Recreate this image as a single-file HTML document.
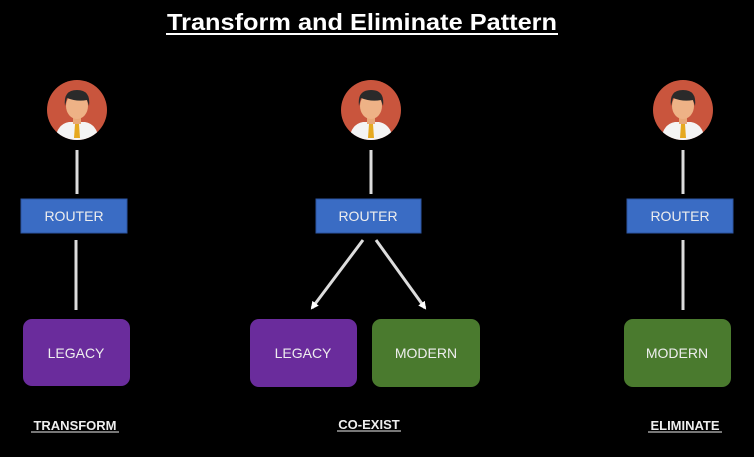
<!DOCTYPE html>
<html><head><style>
body{margin:0;background:#000;width:754px;height:452px;overflow:hidden;font-family:"Liberation Sans",sans-serif}
</style></head><body>
<svg width="754" height="452" xmlns="http://www.w3.org/2000/svg" font-family="Liberation Sans, sans-serif">
<defs>
<marker id="a" markerWidth="8" markerHeight="8" refX="6" refY="4" orient="auto" markerUnits="userSpaceOnUse"><path d="M0,0 L8,4 L0,8 z" fill="#fff"/></marker>
<g id="p">
<clipPath id="c"><circle cx="0" cy="0" r="30"/></clipPath>
<circle r="30" fill="#c9553d"/>
<g clip-path="url(#c)">
<path d="M-22,30 Q-20,14 -8,12 L8,12 Q20,14 22,30 z" fill="#f4f4f4"/>
<path d="M-2,14 L2,14 L3,28 L-3,28 z" fill="#e6a920"/>
<rect x="-4" y="4" width="8" height="10" fill="#e8a878"/>
<ellipse cx="0" cy="-4" rx="11" ry="13" fill="#eeb286"/>
<path d="M-12,-4 Q-14,-20 0,-20 Q14,-20 12,-4 L10,-10 Q0,-8 -10,-12 z" fill="#2a2a2a"/>
</g>
</g>
</defs>
<text x="167" y="30" fill="#fff" font-size="23" font-weight="bold" textLength="390" lengthAdjust="spacingAndGlyphs">Transform and Eliminate Pattern</text>
<line x1="166" y1="34" x2="558" y2="34" stroke="#fff" stroke-width="2"/>
<g stroke="#ddd" stroke-width="3">
<line x1="77" y1="150" x2="77" y2="194"/><line x1="76" y1="240" x2="76" y2="310"/>
<line x1="371" y1="150" x2="371" y2="194"/>
<line x1="683" y1="150" x2="683" y2="194"/><line x1="683" y1="240" x2="683" y2="310"/>
<line x1="363" y1="240" x2="312" y2="308" marker-end="url(#a)"/>
<line x1="376" y1="240" x2="425" y2="308" marker-end="url(#a)"/>
</g>
<use href="#p" x="77" y="110"/><use href="#p" x="371" y="110"/><use href="#p" x="683" y="110"/>
<g fill="#3a6cc4" stroke="#2c55a0"><rect x="21" y="199" width="106" height="34"/><rect x="316" y="199" width="105" height="34"/><rect x="627" y="199" width="106" height="34"/></g>
<rect x="23" y="319" width="107" height="67" rx="9" fill="#6a2c9c"/>
<rect x="250" y="319" width="107" height="68" rx="9" fill="#6a2c9c"/>
<rect x="372" y="319" width="108" height="68" rx="9" fill="#4a7a2e"/>
<rect x="624" y="319" width="107" height="68" rx="9" fill="#4a7a2e"/>
<g fill="#eee" font-size="14" text-anchor="middle">
<text x="74" y="221">ROUTER</text><text x="368" y="221">ROUTER</text><text x="680" y="221">ROUTER</text>
<text x="76" y="358">LEGACY</text><text x="303" y="358">LEGACY</text><text x="426" y="358">MODERN</text><text x="677" y="358">MODERN</text>
</g>
<g fill="#eee" font-size="13" font-weight="bold" text-anchor="middle">
<text x="75" y="430">TRANSFORM</text><text x="369" y="429">CO-EXIST</text><text x="685" y="430">ELIMINATE</text>
</g>
<g stroke="#eee" stroke-width="1"><line x1="31" y1="432" x2="119" y2="432"/><line x1="337" y1="431" x2="401" y2="431"/><line x1="648" y1="432" x2="722" y2="432"/></g>
</svg>
</body></html>
